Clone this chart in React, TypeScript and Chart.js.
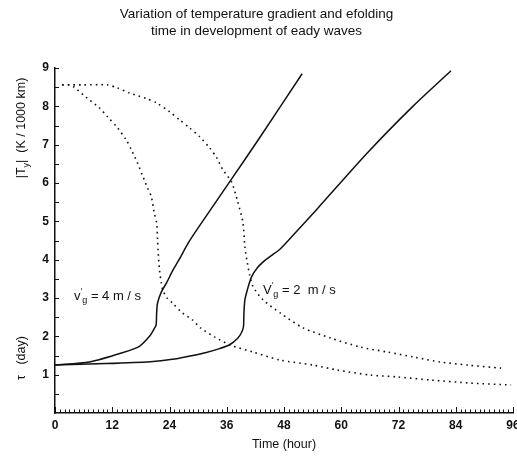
import React, { useEffect, useRef } from 'react';
import { Chart, registerables } from 'chart.js';

Chart.register(...registerables);

// ---------- text ----------
const TITLE_LINES = ['Variation of temperature gradient and efolding', 'time in development of eady waves'];
const X_TITLE = 'Time (hour)';
const X_MIN = 0;
const X_MAX = 96;
const X_STEP = 12;
const Y_MIN = 0;
const Y_MAX = 9;
const Y_STEP = 1;

// ---------- data: |T_y| (solid) ----------
// v'g = 4 m/s
const gradFastT = [0, 7.2, 14.1, 17.7, 19.8, 20.8, 21.2, 21.3, 21.5, 22.3, 23.4, 24.6, 26, 28, 30, 36.6, 43, 51.8];
const gradFastV = [1.25, 1.33, 1.57, 1.74, 2.0, 2.2, 2.3, 2.6, 2.87, 3.16, 3.4, 3.7, 4.0, 4.45, 4.83, 6.03, 7.2, 8.85];
// v'g = 2 m/s
const gradSlowT = [0, 10.7, 20, 24.6, 28, 31.7, 34.5, 36.6, 38.3, 39.1, 39.5, 39.6, 39.8, 40.4, 41.2, 42.5, 44, 45.5, 47.2, 50, 55, 65.5, 75, 83];
const gradSlowV = [1.25, 1.29, 1.34, 1.4, 1.48, 1.58, 1.68, 1.78, 1.95, 2.1, 2.25, 2.6, 2.95, 3.25, 3.55, 3.8, 3.98, 4.12, 4.28, 4.65, 5.33, 6.79, 8.0, 8.93];

// ---------- data: tau (dotted) ----------
// v'g = 4 m/s
const tauFastT = [1.5, 3, 4, 6.7, 9.3, 11, 13.1, 14.9, 16, 17.3, 18.3, 19.4, 20.2, 20.8, 21.3, 21.5, 21.6, 21.9, 22.3, 22.6, 23.5, 24.6, 26.7, 28.8, 30.5, 33.5, 37, 41.5, 47.2, 54.1, 59.2, 66.1, 71.8, 78.7, 87.2, 95.6];
const tauFastV = [8.56, 8.56, 8.5, 8.22, 7.96, 7.73, 7.44, 7.13, 6.87, 6.52, 6.21, 5.87, 5.64, 5.22, 4.96, 4.52, 4.25, 3.73, 3.39, 3.2, 3.0, 2.87, 2.61, 2.43, 2.22, 1.98, 1.76, 1.59, 1.38, 1.25, 1.12, 0.99, 0.94, 0.86, 0.78, 0.73];
// v'g = 2 m/s
const tauSlowT = [1.5, 6, 11, 13.1, 15.6, 19.2, 21.3, 24, 26.1, 28.2, 30.3, 32.4, 33.9, 35.2, 37, 38.3, 39.4, 39.8, 40.2, 40.8, 41.5, 43.6, 47.2, 52, 57.7, 64, 69.7, 75.2, 80.8, 86.5, 93.5];
const tauSlowV = [8.56, 8.56, 8.56, 8.48, 8.35, 8.2, 8.09, 7.86, 7.65, 7.44, 7.21, 6.92, 6.66, 6.34, 6.03, 5.51, 4.96, 4.33, 4.0, 3.6, 3.3, 2.95, 2.61, 2.22, 1.96, 1.72, 1.59, 1.46, 1.33, 1.25, 1.17];

// curve labels (anchored in data space)
const LABEL_FAST = { t: 4, v: 3.05, value: '4' };
const LABEL_SLOW = { t: 43.6, v: 3.2, value: '2' };

const FONT = '"Liberation Sans", Arial, Helvetica, sans-serif';
const INK = '#111';

const pts = (t: number[], v: number[]) => t.map((x, i) => ({ x, y: v[i] }));

type Part = { text: string; sub?: boolean; sup?: boolean };

function drawRich(ctx: CanvasRenderingContext2D, parts: Part[], x: number, y: number, size: number, weight: string, align: 'left' | 'center') {
  const measure = (p: Part) => {
    ctx.font = `${weight} ${p.sub || p.sup ? Math.round(size * 0.7) : size}px ${FONT}`;
    return ctx.measureText(p.text).width;
  };
  const total = parts.reduce((s, p) => s + measure(p), 0);
  let cx = align === 'center' ? x - total / 2 : x;
  ctx.textBaseline = 'middle';
  ctx.textAlign = 'left';
  for (const p of parts) {
    const w = measure(p);
    const dy = p.sub ? size * 0.35 : p.sup ? -size * 0.35 : 0;
    ctx.fillText(p.text, cx, y + dy);
    cx += w;
  }
}

const decorPlugin = {
  id: 'decor',
  afterDraw(chart: any) {
    const { ctx, chartArea, scales } = chart;
    const x = scales.x;
    const y = scales.y;
    ctx.save();
    ctx.strokeStyle = INK;
    ctx.lineWidth = 1;
    // x minor/major ticks (inward)
    for (let h = X_MIN; h <= X_MAX; h += 1) {
      const px = Math.round(x.getPixelForValue(h)) + 0.5;
      const len = h % X_STEP === 0 ? 6 : 3.5;
      ctx.beginPath();
      ctx.moveTo(px, chartArea.bottom);
      ctx.lineTo(px, chartArea.bottom - len);
      ctx.stroke();
    }
    // y ticks (inward) every half unit
    for (let v = Y_MIN + 0.5; v <= Y_MAX; v += 0.5) {
      const py = Math.round(y.getPixelForValue(v)) + 0.5;
      ctx.beginPath();
      ctx.moveTo(chartArea.left, py);
      ctx.lineTo(chartArea.left + 4, py);
      ctx.stroke();
    }
    ctx.fillStyle = INK;
    // y-axis titles
    ctx.save();
    ctx.translate(22, 128);
    ctx.rotate(-Math.PI / 2);
    drawRich(ctx, [{ text: '|T' }, { text: 'y', sub: true }, { text: '|  (K / 1000 km)' }], 0, 0, 12.5, 'normal', 'center');
    ctx.restore();
    ctx.save();
    ctx.translate(22, 358);
    ctx.rotate(-Math.PI / 2);
    drawRich(ctx, [{ text: 'τ   (day)' }], 0, 0, 12.5, 'normal', 'center');
    ctx.restore();
    // curve labels
    drawRich(
      ctx,
      [{ text: 'v' }, { text: '′', sup: true }, { text: 'g', sub: true }, { text: ' = ' + LABEL_FAST.value + ' m / s' }],
      x.getPixelForValue(LABEL_FAST.t), y.getPixelForValue(LABEL_FAST.v), 13, 'normal', 'left'
    );
    drawRich(
      ctx,
      [{ text: 'V' }, { text: '′', sup: true }, { text: 'g', sub: true }, { text: ' = ' + LABEL_SLOW.value + '  m / s' }],
      x.getPixelForValue(LABEL_SLOW.t), y.getPixelForValue(LABEL_SLOW.v), 13, 'normal', 'left'
    );
    ctx.restore();
  },
};

export default function App() {
  const ref = useRef<HTMLCanvasElement>(null);
  useEffect(() => {
    const canvas = ref.current;
    if (!canvas) return;
    const solid = { borderColor: INK, borderWidth: 1.5, pointRadius: 0, tension: 0.25, fill: false };
    const dotted = { borderColor: INK, borderWidth: 1.6, borderDash: [1.6, 4], pointRadius: 0, tension: 0.25, fill: false };
    const chart = new Chart(canvas, {
      type: 'line',
      data: {
        datasets: [
          { label: "|Ty| v'g=4", data: pts(gradFastT, gradFastV), ...solid },
          { label: "|Ty| v'g=2", data: pts(gradSlowT, gradSlowV), ...solid },
          { label: "tau v'g=4", data: pts(tauFastT, tauFastV), ...dotted },
          { label: "tau v'g=2", data: pts(tauSlowT, tauSlowV), ...dotted },
        ] as any,
      },
      options: {
        responsive: false,
        animation: false,
        devicePixelRatio: 1,
        layout: { padding: { top: 0, right: 4, left: 0, bottom: 0 } },
        plugins: {
          legend: { display: false },
          tooltip: { enabled: false },
          title: {
            display: true,
            text: TITLE_LINES,
            color: INK,
            font: { family: FONT, size: 13.5, weight: 'normal', lineHeight: 1.26 },
            padding: { top: 5.5, bottom: 28.5 },
          },
        },
        scales: {
          x: {
            type: 'linear',
            min: X_MIN,
            max: X_MAX,
            grid: { display: false, drawTicks: false },
            border: { display: true, color: INK, width: 1.5 },
            ticks: { stepSize: X_STEP, padding: 5, color: INK, maxRotation: 0, autoSkip: false, font: { family: FONT, size: 12, weight: 'bold' } },
            title: { display: true, text: X_TITLE, color: INK, font: { family: FONT, size: 12.5 }, padding: { top: 0, bottom: 4 } },
            afterFit: (s: any) => { s.height = 43; s.paddingLeft = 0; s.paddingRight = 0; },
          },
          y: {
            type: 'linear',
            min: Y_MIN,
            max: Y_MAX,
            grid: { display: false, drawTicks: false },
            border: { display: true, color: INK, width: 1.5 },
            ticks: {
              stepSize: Y_STEP,
              padding: 6,
              color: INK,
              font: { family: FONT, size: 12, weight: 'bold' },
              callback: (v: any) => (Number(v) === 0 ? '' : String(v)),
            },
            afterFit: (s: any) => { s.width = 55; s.paddingTop = 0; s.paddingBottom = 0; },
          },
        },
      } as any,
      plugins: [decorPlugin],
    });
    return () => chart.destroy();
  }, []);
  return (
    <div style={{ position: 'absolute', left: 0, top: 0, width: 517, height: 456, overflow: 'hidden', background: '#fff' }}>
      <canvas ref={ref} width={517} height={456} style={{ display: 'block' }} />
    </div>
  );
}
